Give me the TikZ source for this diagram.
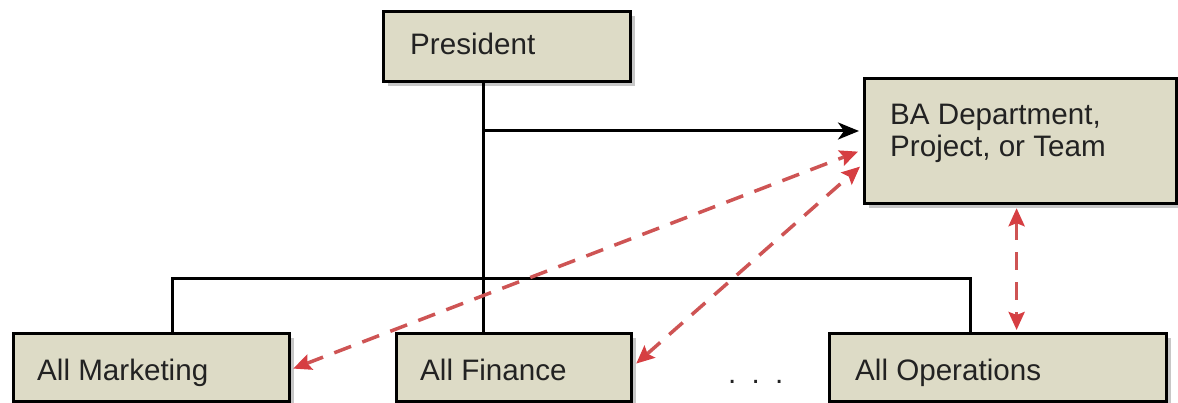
\documentclass[tikz,border=0pt]{standalone}
\usepackage{fontspec}
\setmainfont{Liberation Sans}
\usetikzlibrary{arrows.meta,shadows}
\definecolor{boxfill}{RGB}{221,219,198}
\definecolor{dashred}{RGB}{206,84,84}
\definecolor{tipred}{RGB}{214,62,66}
\definecolor{txt}{RGB}{34,34,34}
\tikzset{
  orgbox/.style={draw=black, line width=3.2pt, fill=boxfill, anchor=north west, inner sep=0pt,
    drop shadow={shadow xshift=4pt, shadow yshift=-4pt, fill=black, opacity=0.22}},
  lbl/.style={anchor=base west, inner sep=0pt, text=txt, font=\fontsize{29.6}{32}\selectfont},
  link/.style={draw=black, line width=3pt},
  redtip/.style={Stealth[length=18pt,width=16pt,inset=3pt,fill=tipred,draw=tipred]},
  redlink/.style={draw=dashred, line width=3.5pt, dash pattern=on 18pt off 12pt,
    {Stealth[length=18pt,width=16pt,inset=3pt,fill=tipred,color=tipred]}-{Stealth[length=18pt,width=16pt,inset=3pt,fill=tipred,color=tipred]}}
}
\begin{document}
\begin{tikzpicture}[x=1pt,y=1pt]
\useasboundingbox (0,0) rectangle (1178,-403);
% boxes
\node[orgbox, minimum width=247pt, minimum height=70pt] (pres) at (382,-10) {};
\node[orgbox, minimum width=312pt, minimum height=125pt] (ba) at (863,-77) {};
\node[orgbox, minimum width=276pt, minimum height=68pt] (mkt) at (12,-332) {};
\node[orgbox, minimum width=235pt, minimum height=68pt] (fin) at (395,-332) {};
\node[orgbox, minimum width=337pt, minimum height=68pt] (ops) at (828,-332) {};
% labels
\node[lbl] (presl) at (410,-55) {President};
\node[lbl] (bal1) at (890,-125) {BA Department,};
\node[lbl] (bal2) at (890,-157) {Project, or Team};
\node[lbl] (mktl) at (37,-380) {All Marketing};
\node[lbl] (finl) at (420,-380) {All Finance};
\node[lbl] (opsl) at (855,-380) {All Operations};
\node[lbl] (dots) at (728,-383) {.\hspace{15.3pt}.\hspace{15.3pt}.};
% tree connectors
\coordinate (junc) at (483,-131);
\coordinate (busL) at (172,-279);
\coordinate (busR) at (970,-279);
\draw[link] (pres.south -| junc) -- (fin.north -| junc);
\draw[link, -{Stealth[length=21pt,width=17pt,inset=6pt]}] (junc) -- ([xshift=-4pt]ba.west |- junc);
\draw[link] (mkt.north -| busL) -- (busL) -- (busR) -- (ops.north -| busR);
% red dashed connectors
\draw[redlink] ([xshift=2pt,yshift=-1pt]mkt.east) -- ([xshift=-5pt,yshift=-10.5pt]ba.west);
\draw[redlink] ([xshift=3pt,yshift=4pt]fin.east) -- ([xshift=-3pt,yshift=-25.5pt]ba.west);
\draw[redlink] ([xshift=-4pt,yshift=-3pt]ba.south) -- ([xshift=-4pt,yshift=2pt]ba.south |- ops.north);
\end{tikzpicture}
\end{document}
